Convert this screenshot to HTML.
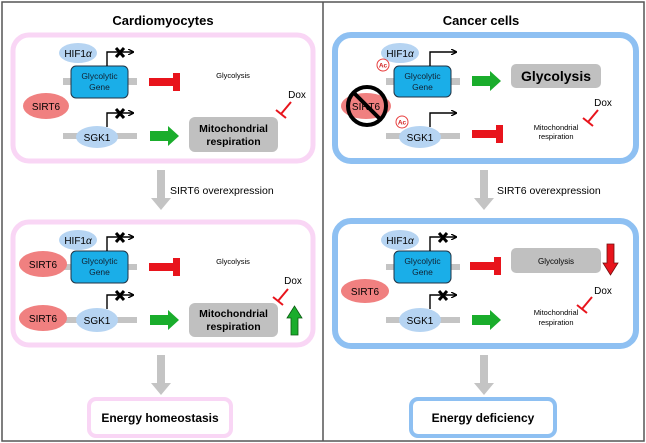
<!DOCTYPE html>
<html><head><meta charset="utf-8"><style>
html,body{margin:0;padding:0;background:#fff;}
svg{display:block;font-family:"Liberation Sans",Arial,sans-serif;}
</style></head><body>
<svg width="646" height="443" viewBox="0 0 646 443" xmlns="http://www.w3.org/2000/svg">
<defs>
<marker id="ah" markerWidth="6" markerHeight="6" refX="5" refY="3" orient="auto" markerUnits="userSpaceOnUse"><path d="M0,0 L6,3 L0,6" fill="none" stroke="#000" stroke-width="1.3"/></marker>
<g id="prom"><path d="M0,0 V-14 H26" fill="none" stroke="#000" stroke-width="1.4" marker-end="url(#ah)"/></g>
<g id="promx"><use href="#prom"/><path d="M9,-18 L17,-9 M9,-9 L17,-18" stroke="#000" stroke-width="3"/></g>
<g id="redT"><rect x="0" y="-4" width="26" height="8" fill="#e8141c"/><rect x="24" y="-9" width="7" height="18" fill="#e8141c"/></g>
<g id="greenA"><path d="M0,-5 H18 V-10 L29,0 L18,10 V5 H0 Z" fill="#1aad2c"/></g>
<g id="grayDown"><path d="M-4,0 H4 V28 H10 L0,40 L-10,28 H-4 Z" fill="#c4c4c4"/></g>
<g id="ac"><circle r="6" fill="#fff" stroke="#e84040" stroke-width="1"/><text y="2.5" font-size="6.5" text-anchor="middle" fill="#d02020" font-weight="bold">Ac</text></g>
<g id="inh"><path d="M0,0 L-10,12 M-15,8 L-5,16" stroke="#e8141c" stroke-width="2"/></g>
</defs>
<rect x="2" y="2" width="642" height="439" fill="#fff" stroke="#555" stroke-width="1.5"/>
<line x1="323" y1="2" x2="323" y2="441" stroke="#555" stroke-width="1.5"/>

<!-- LEFT -->
<text x="163" y="25" font-size="13" font-weight="bold" text-anchor="middle">Cardiomyocytes</text>
<rect x="13" y="35" width="300" height="126" rx="16" fill="#fff" stroke="#f9d6f5" stroke-width="5"/>
<rect x="63" y="78" width="74" height="7" fill="#c4c4c4"/>
<ellipse cx="78" cy="53" rx="19" ry="10" fill="#b6d4f2"/>
<text x="78" y="57" font-size="10" text-anchor="middle">HIF1<tspan font-style="italic">α</tspan></text>
<rect x="71" y="66" width="57" height="32" rx="5" fill="#1aaee8" stroke="#234" stroke-width="1"/>
<text x="99.5" y="79" font-size="8.5" text-anchor="middle" fill="#123">Glycolytic</text>
<text x="99.5" y="90" font-size="8.5" text-anchor="middle" fill="#123">Gene</text>
<use href="#promx" x="107" y="66"/>
<use href="#redT" x="149" y="82"/>
<text x="233" y="78" font-size="7.5" text-anchor="middle">Glycolysis</text>
<ellipse cx="46" cy="106" rx="23" ry="13" fill="#f08080"/>
<text x="46" y="110" font-size="10" text-anchor="middle">SIRT6</text>
<rect x="63" y="133" width="74" height="6" fill="#c4c4c4"/>
<ellipse cx="97" cy="137" rx="21" ry="11" fill="#b6d4f2"/>
<text x="97" y="141" font-size="10" text-anchor="middle">SGK1</text>
<use href="#promx" x="107" y="127"/>
<use href="#greenA" x="150" y="136"/>
<rect x="189" y="117" width="89" height="35" rx="6" fill="#c0c0c0"/>
<text x="233.5" y="132" font-size="10.5" font-weight="bold" text-anchor="middle">Mitochondrial</text>
<text x="233.5" y="145" font-size="10.5" font-weight="bold" text-anchor="middle">respiration</text>
<text x="297" y="98" font-size="10" text-anchor="middle">Dox</text>
<use href="#inh" x="291" y="102"/>
<use href="#grayDown" x="161" y="170"/>
<text x="170" y="194" font-size="10.5">SIRT6 overexpression</text>

<rect x="13" y="222" width="300" height="123" rx="16" fill="#fff" stroke="#f9d6f5" stroke-width="5"/>
<rect x="63" y="264" width="74" height="6" fill="#c4c4c4"/>
<ellipse cx="78" cy="240" rx="19" ry="10" fill="#b6d4f2"/>
<text x="78" y="244" font-size="10" text-anchor="middle">HIF1<tspan font-style="italic">α</tspan></text>
<rect x="71" y="251" width="57" height="32" rx="5" fill="#1aaee8" stroke="#234" stroke-width="1"/>
<text x="99.5" y="264" font-size="8.5" text-anchor="middle" fill="#123">Glycolytic</text>
<text x="99.5" y="275" font-size="8.5" text-anchor="middle" fill="#123">Gene</text>
<use href="#promx" x="107" y="251"/>
<use href="#redT" x="149" y="267"/>
<text x="233" y="264" font-size="7.5" text-anchor="middle">Glycolysis</text>
<ellipse cx="43" cy="264" rx="24" ry="13" fill="#f08080"/>
<text x="43" y="268" font-size="10" text-anchor="middle">SIRT6</text>
<rect x="63" y="317" width="74" height="6" fill="#c4c4c4"/>
<ellipse cx="43" cy="318" rx="24" ry="13" fill="#f08080"/>
<text x="43" y="322" font-size="10" text-anchor="middle">SIRT6</text>
<ellipse cx="97" cy="320" rx="21" ry="12" fill="#b6d4f2"/>
<text x="97" y="324" font-size="10" text-anchor="middle">SGK1</text>
<use href="#promx" x="107" y="309"/>
<use href="#greenA" x="150" y="320"/>
<rect x="189" y="303" width="89" height="34" rx="6" fill="#c0c0c0"/>
<text x="233.5" y="317" font-size="10.5" font-weight="bold" text-anchor="middle">Mitochondrial</text>
<text x="233.5" y="330" font-size="10.5" font-weight="bold" text-anchor="middle">respiration</text>
<text x="293" y="284" font-size="10" text-anchor="middle">Dox</text>
<use href="#inh" x="288" y="289"/>
<path d="M291,335 V318 H287 L294.5,306 L302,318 H298 V335 Z" fill="#1aad2c" stroke="#0a5a10" stroke-width="0.8"/>
<use href="#grayDown" x="161" y="355"/>
<rect x="89" y="399" width="142" height="37" rx="7" fill="#fff" stroke="#f9d6f5" stroke-width="4"/>
<text x="160" y="422" font-size="12" font-weight="bold" text-anchor="middle">Energy homeostasis</text>

<!-- RIGHT -->
<text x="481" y="25" font-size="13" font-weight="bold" text-anchor="middle">Cancer cells</text>
<rect x="335" y="35" width="301" height="126" rx="16" fill="#fff" stroke="#8ec0f2" stroke-width="6"/>
<rect x="386" y="78" width="74" height="7" fill="#c4c4c4"/>
<ellipse cx="400" cy="53" rx="19" ry="10" fill="#b6d4f2"/>
<text x="400" y="57" font-size="10" text-anchor="middle">HIF1<tspan font-style="italic">α</tspan></text>
<use href="#ac" x="383" y="65"/>
<rect x="394" y="66" width="57" height="31" rx="5" fill="#1aaee8" stroke="#234" stroke-width="1"/>
<text x="422.5" y="79" font-size="8.5" text-anchor="middle" fill="#123">Glycolytic</text>
<text x="422.5" y="90" font-size="8.5" text-anchor="middle" fill="#123">Gene</text>
<use href="#prom" x="430" y="66"/>
<use href="#greenA" x="472" y="81"/>
<rect x="511" y="64" width="90" height="24" rx="5" fill="#c0c0c0"/>
<text x="556" y="81" font-size="14" font-weight="bold" text-anchor="middle">Glycolysis</text>
<ellipse cx="366" cy="106" rx="25" ry="13" fill="#f08080"/>
<text x="366" y="110" font-size="10" text-anchor="middle">SIRT6</text>
<circle cx="367" cy="106" r="19" fill="none" stroke="#000" stroke-width="4"/>
<line x1="354" y1="93" x2="380" y2="119" stroke="#000" stroke-width="4"/>
<rect x="386" y="133" width="74" height="6" fill="#c4c4c4"/>
<ellipse cx="420" cy="137" rx="21" ry="11" fill="#b6d4f2"/>
<text x="420" y="141" font-size="10" text-anchor="middle">SGK1</text>
<use href="#ac" x="402" y="122"/>
<use href="#prom" x="430" y="127"/>
<use href="#redT" x="472" y="134"/>
<text x="556" y="130" font-size="7.5" text-anchor="middle">Mitochondrial</text>
<text x="556" y="139" font-size="7.5" text-anchor="middle">respiration</text>
<text x="603" y="106" font-size="10" text-anchor="middle">Dox</text>
<use href="#inh" x="598" y="110"/>
<use href="#grayDown" x="484" y="170"/>
<text x="497" y="194" font-size="10.5">SIRT6 overexpression</text>

<rect x="335" y="221" width="301" height="125" rx="16" fill="#fff" stroke="#8ec0f2" stroke-width="6"/>
<rect x="386" y="264" width="74" height="6" fill="#c4c4c4"/>
<ellipse cx="400" cy="240" rx="19" ry="10" fill="#b6d4f2"/>
<text x="400" y="244" font-size="10" text-anchor="middle">HIF1<tspan font-style="italic">α</tspan></text>
<rect x="394" y="251" width="57" height="32" rx="5" fill="#1aaee8" stroke="#234" stroke-width="1"/>
<text x="422.5" y="264" font-size="8.5" text-anchor="middle" fill="#123">Glycolytic</text>
<text x="422.5" y="275" font-size="8.5" text-anchor="middle" fill="#123">Gene</text>
<use href="#promx" x="430" y="251"/>
<use href="#redT" x="470" y="266"/>
<rect x="511" y="248" width="90" height="25" rx="5" fill="#c0c0c0"/>
<text x="556" y="264" font-size="8" text-anchor="middle">Glycolysis</text>
<path d="M607,244 H614 V263 H618 L610.5,275 L603,263 H607 Z" fill="#e8141c" stroke="#701010" stroke-width="0.8"/>
<ellipse cx="365" cy="291" rx="24" ry="12" fill="#f08080"/>
<text x="365" y="295" font-size="10" text-anchor="middle">SIRT6</text>
<rect x="386" y="317" width="74" height="6" fill="#c4c4c4"/>
<ellipse cx="420" cy="320" rx="21" ry="12" fill="#b6d4f2"/>
<text x="420" y="324" font-size="10" text-anchor="middle">SGK1</text>
<use href="#promx" x="430" y="309"/>
<use href="#greenA" x="472" y="320"/>
<text x="556" y="315" font-size="7.5" text-anchor="middle">Mitochondrial</text>
<text x="556" y="325" font-size="7.5" text-anchor="middle">respiration</text>
<text x="603" y="294" font-size="10" text-anchor="middle">Dox</text>
<use href="#inh" x="592" y="297"/>
<use href="#grayDown" x="484" y="355"/>
<rect x="411" y="399" width="144" height="37" rx="7" fill="#fff" stroke="#8ec0f2" stroke-width="4"/>
<text x="483" y="422" font-size="12" font-weight="bold" text-anchor="middle">Energy deficiency</text>
</svg>
</body></html>
